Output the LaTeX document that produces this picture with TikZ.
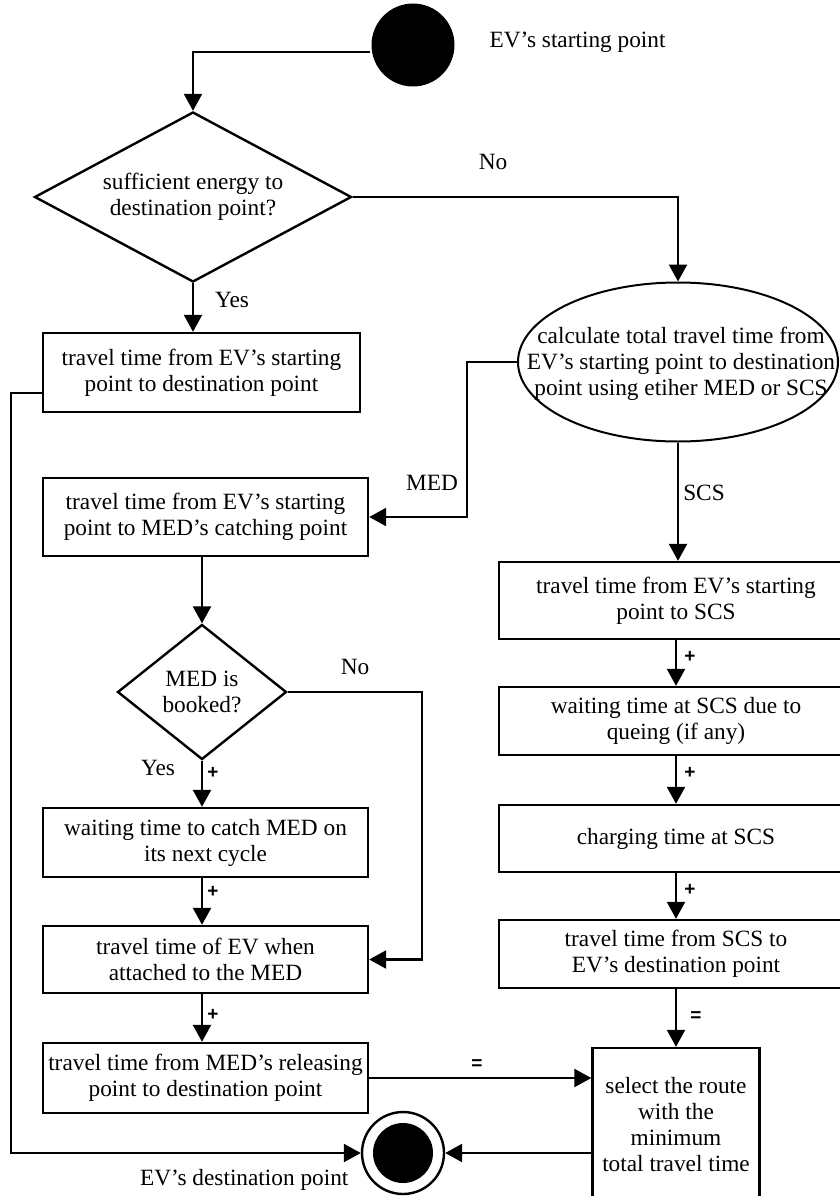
\documentclass[tikz,border=0pt]{standalone}
\usepackage{fontspec}
\setmainfont{Liberation Serif}
\newfontfamily\signfont{Liberation Sans}
\usetikzlibrary{shapes.geometric, arrows.meta}

\begin{document}
\begin{tikzpicture}[x=1pt, y=-1pt,
  font=\fontsize{23.3}{26}\selectfont,
  line width=2.4pt,
  box/.style={draw, fill=white, rectangle, inner sep=0pt, align=center},
  dec/.style={draw, fill=white, diamond, inner sep=0pt, align=center},
  arr/.style={-{Triangle[length=17pt,width=18pt]}},
  sign/.style={font=\signfont\bfseries\fontsize{19}{20}\selectfont}]
\useasboundingbox (0,0) rectangle (840,1196);

% start and end
\node[circle, fill=black, minimum size=83pt, inner sep=0pt] (start) at (413,45) {};
\node[anchor=west] (startlbl) at (485,42) {EV's starting point};
\node[circle, draw, fill=white, minimum size=82pt, inner sep=0pt] (dest) at (403,1153) {};
\fill[black] (dest) circle (30pt);
\node[anchor=east] (destlbl) at (353,1180) {EV's destination point};

% left branch
\node[dec, aspect=1.865, minimum width=317pt, minimum height=170pt] (enough) at (193,197)
  {sufficient energy to\\ destination point?};
\node[box, minimum width=317pt, minimum height=79pt] (direct) at (201.5,372.5)
  {travel time from EV's starting\\ point to destination point};
\node[box, minimum width=325pt, minimum height=78pt] (catch) at (205.5,517)
  {travel time from EV's starting\\ point to MED's catching point};
\node[dec, aspect=1.25, minimum width=169pt, minimum height=135pt] (booked) at (202,692)
  {MED is\\ booked?};
\node[box, minimum width=325pt, minimum height=69pt] (cycle) at (205.5,842.5)
  {waiting time to catch MED on\\ its next cycle};
\node[box, minimum width=325pt, minimum height=67pt] (attach) at (205.5,959.5)
  {travel time of EV when\\ attached to the MED};
\node[box, minimum width=325pt, minimum height=70pt] (release) at (205.5,1078)
  {travel time from MED's releasing\\ point to destination point};

% right branch
\node[draw, fill=white, ellipse, line width=2pt, minimum width=320pt, minimum height=159pt, inner sep=0pt] (calc) at (678,362) {};
\node[align=center, inner sep=0pt] (calctxt) at (681,364)
  {calculate total travel time from\\ EV's starting point to destination\\ point using etiher MED or SCS};
\node[box, minimum width=354pt, minimum height=77pt] (toscs) at (676,600.5)
  {travel time from EV's starting\\ point to SCS};
\node[box, minimum width=354pt, minimum height=68pt] (queue) at (676,721)
  {waiting time at SCS due to\\ queing (if any)};
\node[box, minimum width=354pt, minimum height=67pt] (charge) at (676,838.5)
  {charging time at SCS};
\node[box, minimum width=354pt, minimum height=68pt] (fromscs) at (676,954)
  {travel time from SCS to\\ EV's destination point};
\node[box, minimum width=167pt, minimum height=153pt] (select) at (676,1124.5)
  {select the route\\ with the\\ minimum\\ total travel time};

% connectors
\draw[arr] ([yshift=-7pt]start.west) -| (enough.north);
\draw[arr] (enough.east) -| (calc.north);
\node (no1) at (493,162) {No};
\draw[arr] (enough.south) -- (enough.south |- direct.north);
\node (yes1) at (232,300) {Yes};
\draw[arr] ([yshift=-20.5pt]direct.west) -- ++(-31,0) |- (dest.west);

\draw[arr] (calc.west) -- ++(-50,0) |- (catch.east);
\node (medlbl) at (432,483) {MED};
\draw[arr] (calc.south) -- (calc.south |- toscs.north);
\node (scslbl) at (704,493) {SCS};

\draw[arr] (booked.north |- catch.south) -- (booked.north);
\draw[arr] (booked.south) -- (booked.south |- cycle.north);
\node (yes2) at (158,768) {Yes};
\node[sign] (p1) at (213,773) {+};
\draw[arr] (booked.east) -- ++(134,0) |- (attach.east);
\node (no2) at (355,667) {No};
\draw[arr] (booked.south |- cycle.south) -- (booked.south |- attach.north);
\node[sign] (p2) at (213,892) {+};
\draw[arr] (booked.south |- attach.south) -- (booked.south |- release.north);
\node[sign] (p3) at (213,1015) {+};
\draw[arr] (release.east) -- (release.east -| select.west);
\node[sign] (e1) at (477,1065) {=};

\draw[arr] (toscs.south) -- (queue.north);
\node[sign] (p4) at (690,657) {+};
\draw[arr] (queue.south) -- (charge.north);
\node[sign] (p5) at (690,773) {+};
\draw[arr] (charge.south) -- (fromscs.north);
\node[sign] (p6) at (690,890) {+};
\draw[arr] (fromscs.south) -- (select.north);
\node[sign] (e2) at (696,1017) {=};
\draw[arr] (dest -| select.west) -- (dest.east);
\end{tikzpicture}
\end{document}
